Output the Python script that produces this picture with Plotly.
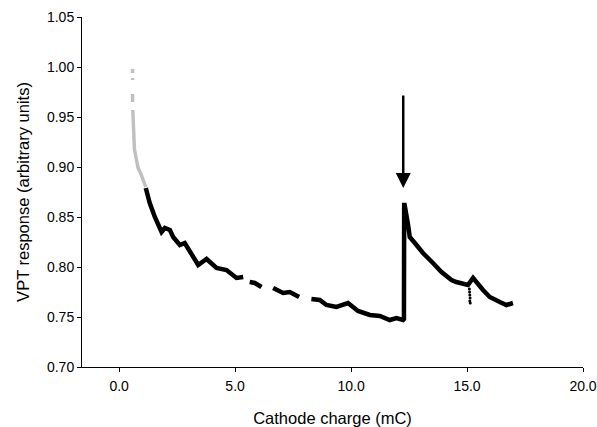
import plotly.graph_objects as go

# early, low-charge readings (grey)
grey_x = [0.58, 0.58, None, 0.58, 0.58, None, 0.58, 0.58, None,
          0.59, 0.60, 0.62, 0.66, 0.75, 0.82, 0.92, 1.03, 1.15]
grey_y = [0.998, 0.994, None, 0.989, 0.987, None, 0.973, 0.965, None,
          0.957, 0.945, 0.930, 0.918, 0.907, 0.899, 0.894, 0.886, 0.880]

# main response curve (black); None marks a gap in the record
resp_x = [1.15, 1.32, 1.54, 1.83, 1.97, 2.19, 2.33, 2.62, 2.83, 3.05, 3.41, 3.77,
          4.20, 4.63, 5.06, 5.35, None,
          5.63, 5.85, 6.14, None,
          6.64, 6.84, 7.07, 7.36, 7.76, None,
          8.29, 8.65, 8.94, 9.37, 9.87, 10.30, 10.81, 11.24, 11.67, 11.96, 12.24, 12.28,
          12.29, 12.31, 12.46, 12.53, 12.75, 13.10, 13.53, 13.90, 14.33, 14.54, 15.04,
          15.26, 15.69, 15.98, 16.41, 16.70, 16.98]
resp_y = [0.879, 0.864, 0.850, 0.835, 0.839, 0.837, 0.830, 0.822, 0.824, 0.815, 0.802, 0.808,
          0.799, 0.797, 0.789, 0.790, None,
          0.785, 0.784, 0.780, None,
          0.779, 0.777, 0.774, 0.775, 0.770, None,
          0.768, 0.767, 0.762, 0.760, 0.764, 0.756, 0.752, 0.751, 0.747, 0.749, 0.747, 0.748,
          0.862, 0.862, 0.842, 0.830, 0.824, 0.814, 0.804, 0.795, 0.787, 0.785, 0.782,
          0.789, 0.777, 0.770, 0.765, 0.762, 0.764]

# scattered low readings near 15 mC
dip_x = [15.10, 15.11, 15.12, 15.13, 15.12, 15.14]
dip_y = [0.778, 0.775, 0.772, 0.769, 0.766, 0.764]

# arrow marking the step
arrow_x = 12.25
arrow_tip, arrow_tail = 0.879, 0.973

fig = go.Figure()

fig.add_trace(go.Scatter(x=grey_x, y=grey_y, mode='lines', connectgaps=False,
                         line=dict(color='#c0c0c0', width=3.5), showlegend=False))
fig.add_trace(go.Scatter(x=resp_x, y=resp_y, mode='lines', connectgaps=False,
                         line=dict(color='black', width=4.5), showlegend=False))
fig.add_trace(go.Scatter(x=dip_x, y=dip_y, mode='markers',
                         marker=dict(color='black', size=3), showlegend=False))

fig.add_annotation(x=arrow_x, y=arrow_tip, ax=arrow_x, ay=arrow_tail,
                   xref='x', yref='y', axref='x', ayref='y', text='',
                   showarrow=True, arrowhead=2, arrowsize=1.2, arrowwidth=2.5,
                   arrowcolor='black')

fig.update_layout(
    width=597, height=427,
    margin=dict(l=82, r=14, t=17, b=60),
    paper_bgcolor='white', plot_bgcolor='white',
    font=dict(family='Liberation Sans, Arial, sans-serif', size=14, color='black'),
)

fig.update_xaxes(range=[-1.6, 20], tickvals=[0, 5, 10, 15, 20], tickformat='.1f',
                 showgrid=False, zeroline=False, showline=True, linecolor='black', linewidth=1,
                 ticks='outside', ticklen=4, tickcolor='black', ticklabelstandoff=2,
                 automargin=False,
                 title=dict(text='Cathode charge (mC)', font=dict(size=16.5), standoff=23))
fig.update_yaxes(range=[0.70, 1.05], dtick=0.05, tickformat='.2f',
                 showgrid=False, zeroline=False, showline=True, linecolor='black', linewidth=1,
                 ticks='outside', ticklen=4, tickcolor='black',
                 automargin=False,
                 title=dict(text='VPT response (arbitrary units)', font=dict(size=16.5), standoff=13))

fig.write_html("out.html", config={'displayModeBar': False},
               post_script="document.body.style.margin='0';")
